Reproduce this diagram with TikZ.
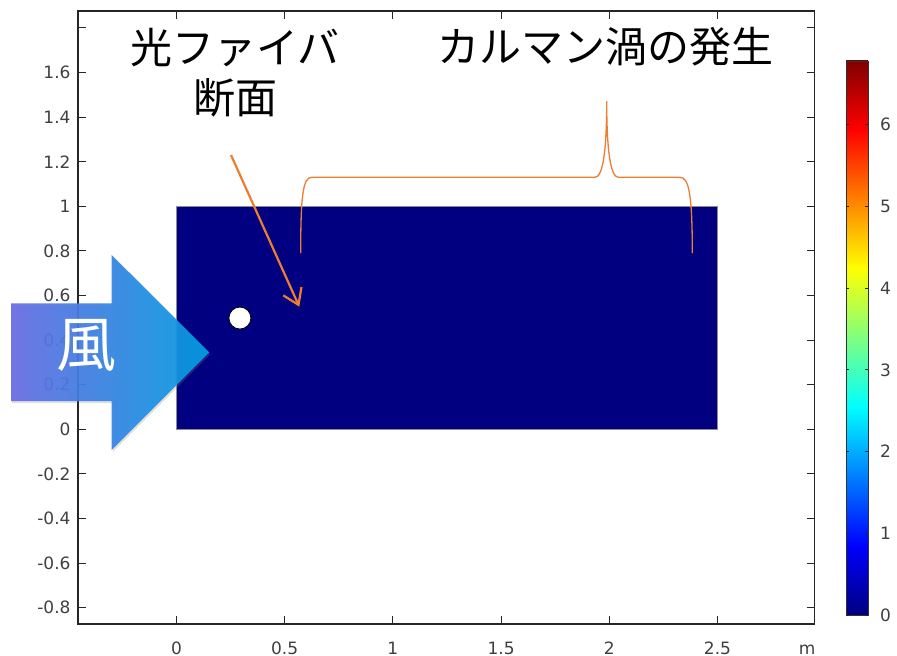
\documentclass[tikz,border=0pt]{standalone}
\usepackage{fontspec}
\setmainfont{DejaVu Sans}
\newfontfamily\jpfont{Noto Sans CJK JP}
\usetikzlibrary{arrows.meta, shadows}

\definecolor{domainblue}{rgb}{0,0,0.5}
\definecolor{callout}{RGB}{237,125,49}
\definecolor{windL}{RGB}{104,108,228}
\definecolor{windM}{RGB}{34,110,224}
\definecolor{windR}{RGB}{0,158,226}
\definecolor{jetA}{rgb}{0,0,0.5}
\definecolor{jetB}{rgb}{0,0,1}
\definecolor{jetC}{rgb}{0,1,1}
\definecolor{jetD}{rgb}{1,1,0}
\definecolor{jetE}{rgb}{1,0,0}
\definecolor{jetF}{rgb}{0.5,0,0}

\begin{document}
\begin{tikzpicture}[x=1pt, y=-1pt,
  ticklabel/.style={font=\fontsize{17}{17}\selectfont, text=black!75, inner sep=0pt},
  axisline/.style={black!85, line width=1.1pt},
  tickmark/.style={black!85, line width=0.9pt},
  jptext/.style={font=\jpfont\fontsize{42}{50}\selectfont, align=center, inner sep=0pt}]
  \useasboundingbox[fill=white] (0,0) rectangle (897,656);

  % plot in data units
  \begin{scope}[shift={(176.5,429.3)}, x=216.4pt, y=223pt]
    % computational domain and fibre section
    \draw[black!45, line width=0.8pt, fill=domainblue] (0,0) rectangle (2.5,1);
    \draw[black, line width=0.8pt, fill=white] (0.293,0.499) circle (11pt);
    % frame and ticks
    \draw[axisline] (-0.455,-0.873) rectangle (2.950,1.876);
    \foreach \v in {-0.8,-0.6,-0.4,-0.2,0,0.2,0.4,0.6,0.8,1,1.2,1.4,1.6,1.8} {
      \draw[tickmark] (-0.455,\v) -- ++(8pt,0);
      \draw[tickmark] (2.950,\v) -- ++(-8pt,0);
    }
    \foreach \v in {0,0.5,1,1.5,2,2.5} {
      \draw[tickmark] (\v,-0.873) -- ++(0,8pt);
      \draw[tickmark] (\v,1.876) -- ++(0,-8pt);
      \node[ticklabel, anchor=base] at (\v,-1.008) {\v};
    }
    \foreach \v in {-0.8,-0.6,-0.4,-0.2,0,0.2,0.4,0.6,0.8,1,1.2,1.4,1.6}
      \node[ticklabel, anchor=east] at (-0.489,\v) {\v};
    \node[ticklabel, anchor=base] at (2.914,-1.008) {m};
  \end{scope}

  % colour legend
  \begin{scope}[shift={(846,615)}, x=1pt, y=81.7pt]
    \foreach \a/\b/\ca/\cb in {0/0.8475/jetA/jetB, 0.8475/2.5425/jetB/jetC,
                               2.5425/4.2375/jetC/jetD, 4.2375/5.9325/jetD/jetE,
                               5.9325/6.78/jetE/jetF}
      \shade[bottom color=\ca, top color=\cb] (0,\a) rectangle (22,{\b+0.01});
    \draw[black!80, line width=0.9pt] (0,0) rectangle (22,6.78);
    \foreach \v in {0,...,6} {
      \draw[tickmark] (0,\v) -- ++(3pt,0);
      \draw[tickmark] (22,\v) -- ++(-3pt,0);
      \node[ticklabel, anchor=west] at (34,\v) {\v};
    }
  \end{scope}

  % wind arrow
  \shade[left color=windL, middle color=windM, right color=windR, opacity=0.92,
         drop shadow={shadow xshift=1pt, shadow yshift=-2pt, opacity=0.25}]
    (11,303.3) -- (111.7,303.3) -- (111.7,255) -- (209.3,352.3)
    -- (111.7,450) -- (111.7,401) -- (11,401) -- cycle;
  \node[font=\jpfont\fontsize{60}{60}\selectfont, text=white, inner sep=0pt]
    (wind) at (86,345) {風};

  % labels
  \node[jptext] (fiber) at (235,73) {光ファイバ\\断面};
  \node[jptext] (karman) at (605.7,46.7) {カルマン渦の発生};

  % callout arrow to the fibre
  \coordinate (fibA) at (231,155);
  \coordinate (fibB) at (299.3,306.7);
  \draw[callout, line width=2.2pt, -{Straight Barb[length=15pt, width=20pt]}]
    (fibA) -- (fibB);

  % brace over the wake
  \coordinate (brL) at (300.7,253);
  \coordinate (brT) at (606.7,101);
  \coordinate (brR) at (692.3,253);
  \draw[callout, line width=1.3pt]
    (brL) .. controls (300.7,195) and (303,177.3) .. (311.7,177.3)
    -- (595,177.3) .. controls (603,177.3) and (606.7,150) .. (brT)
    .. controls (606.7,150) and (610.4,177.3) .. (618.4,177.3)
    -- (680,177.3) .. controls (689,177.3) and (692.3,195) .. (brR);
\end{tikzpicture}
\end{document}
